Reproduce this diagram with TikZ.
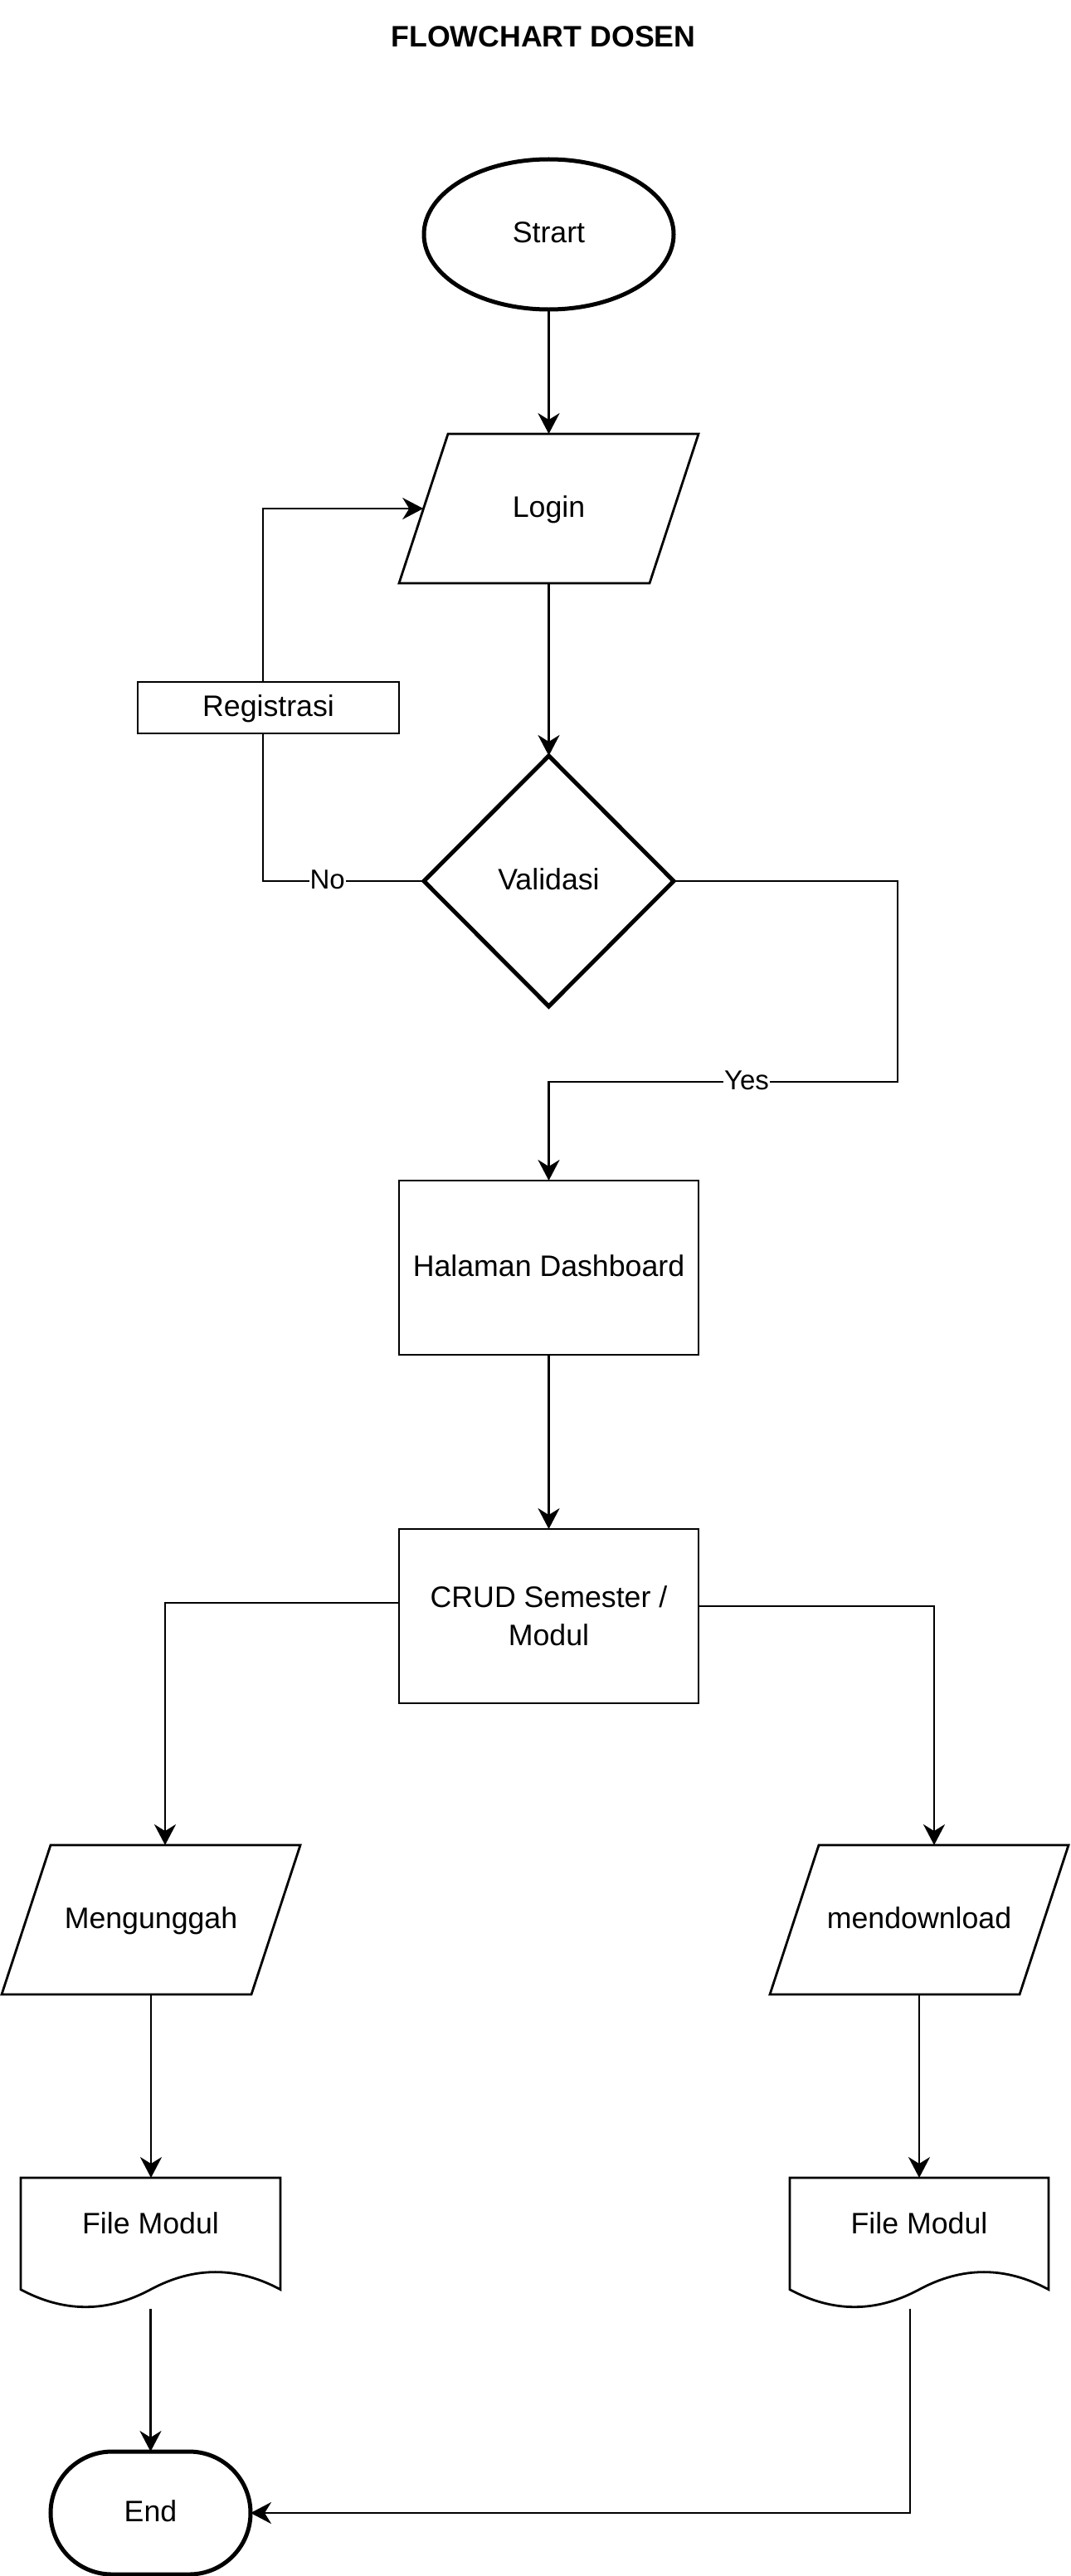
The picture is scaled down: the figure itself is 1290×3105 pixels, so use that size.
\documentclass[tikz,border=0pt]{standalone}
\usepackage{fontspec}
\setmainfont{Liberation Sans}
\usetikzlibrary{shapes.geometric, arrows.meta, calc}
\newcommand\txtfont{\fontsize{35.7bp}{46bp}\selectfont}
\newcommand\lblfont{\fontsize{33bp}{40bp}\selectfont}
\newcommand\paraline[1]{\draw[outline] (#1.south west) -- ($(#1.north west)+(59,0)$) -- (#1.north east) -- ($(#1.south east)+(-59,0)$) -- cycle;}
\newcommand\docline[1]{\draw[outline] (#1.north west) -- (#1.north east) -- ($(#1.south east)+(0,-23.35)$) .. controls ($(#1.south west)!0.8333!(#1.south east)+(0,-51.4)$) and ($(#1.south west)!0.6667!(#1.south east)+(0,-51.4)$) .. ($(#1.south)+(0,-23.35)$) .. controls ($(#1.south west)!0.3333!(#1.south east)+(0,4.68)$) and ($(#1.south west)!0.1667!(#1.south east)+(0,4.68)$) .. ($(#1.south west)+(0,-23.35)$) -- cycle;}
\begin{document}
\begin{tikzpicture}[x=1bp, y=-1bp,
  txt/.style={inner sep=0pt, outer sep=0pt, font=\txtfont},
  onel/.style={txt, text height=30bp, text depth=10bp},
  outline/.style={line width=2.8bp, line join=miter},
  box/.style={txt, draw, rectangle, line width=2.8bp},
  heavy/.style={line width=5bp},
  conn/.style={line width=2.8bp},
  arr/.style={conn, -{Stealth[length=25bp, width=26bp, inset=8bp]}},
  elabel/.style={font=\lblfont, fill=white, inner xsep=1bp, inner ysep=0pt, outer sep=0pt, text height=27.7bp, text depth=9.3bp}
]
\fill[white] (0,0) rectangle (1290,3105);
\useasboundingbox (0,0) rectangle (1290,3105);

\node[onel, font={\txtfont\bfseries}] (title) at (655,47) {FLOWCHART DOSEN};

\node[onel, ellipse, draw, heavy, minimum width=301bp, minimum height=181bp] (start) at (661.5,282.5) {Strart};

\node[onel, minimum width=361bp, minimum height=180bp] (login) at (661.5,613) {Login};
\paraline{login}

\node[onel, box, minimum width=315bp, minimum height=62bp] (reg) at (323.5,853) {Registrasi};

\node[onel, diamond, draw, heavy, minimum width=301bp, minimum height=302bp] (val) at (661.5,1062) {Validasi};

\node[onel, box, minimum width=361bp, minimum height=210bp] (hal) at (661.5,1528) {Halaman Dashboard};

\node[box, align=center, minimum width=361bp, minimum height=210bp] (crud) at (661.5,1948) {CRUD Semester /\\Modul};

\node[onel, minimum width=360bp, minimum height=180bp] (meng) at (182,2314) {Mengunggah};
\paraline{meng}

\node[onel, minimum width=360bp, minimum height=180bp] (mend) at (1108,2314) {mendownload};
\paraline{mend}

\node[txt, minimum width=313bp, minimum height=158bp, label={[onel, yshift=22bp]center:File Modul}] (f1) at (181.5,2704) {};
\docline{f1}

\node[txt, minimum width=312bp, minimum height=158bp, label={[onel, yshift=22bp]center:File Modul}] (f2) at (1108,2704) {};
\docline{f2}

\node[onel, draw, heavy, rounded corners=74bp, minimum width=241bp, minimum height=148bp] (fin) at (181.5,3029) {End};

% connectors
\draw[arr] (start.south) -- (login.north);
\draw[arr] (login.south) -- (val.north);
\draw[conn] (val.west) -| node[elabel, pos=0.3]{No} ($(reg.south)+(-6.5,0)$);
\draw[arr] ($(reg.north)+(-6.5,0)$) |- ($(login.west)+(29.25,0)$);
\coordinate (ycorner) at (1082,1304);
\draw[arr] (val.east) -| (ycorner) -- node[elabel, pos=0.433]{Yes} (ycorner -| hal.north) -- (hal.north);
\draw[arr] (hal.south) -- (crud.north);
\draw[arr] ($(crud.west)+(0,-16)$) -| ($(meng.north)+(17,0)$);
\draw[arr] ($(crud.east)+(0,-12)$) -| ($(mend.north)+(18,0)$);
\draw[arr] (meng.south) -- (meng.south |- f1.north);
\draw[arr] (mend.south) -- (f2.north);
\draw[arr] (f1.south) -- (f1.south |- fin.north);
\draw[arr] ($(f2.south)+(-11,0)$) |- (fin.east);
\end{tikzpicture}
\end{document}
